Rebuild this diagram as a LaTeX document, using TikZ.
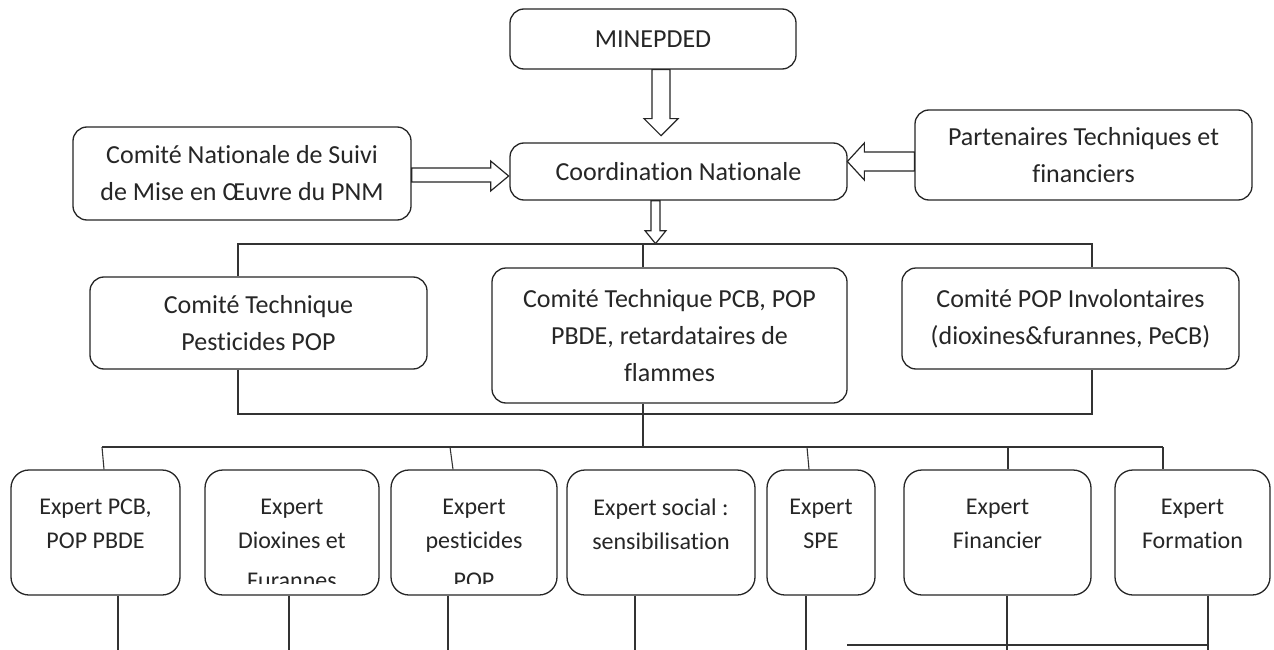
\documentclass[tikz,border=0pt]{standalone}
\usepackage{fontspec}
\setmainfont{Carlito}[Ligatures={NoCommon}]
\usetikzlibrary{calc}
\newcommand\bigfs{\fontsize{26}{37}\selectfont}
\newcommand\smallfs{\fontsize{24}{34}\selectfont}
\newcommand\etx[2]{\parbox[c][125pt][t]{#1}{\centering\vspace*{29pt}#2}}
\begin{document}
\begin{tikzpicture}[x=1pt,y=-1pt,
  box/.style={draw=black!85, line width=1.3pt, fill=white, rounded corners=14pt,
    inner sep=0pt, align=center, font=\bigfs, text=black!85},
  ebox/.style={draw=black!85, line width=1.3pt, fill=white, rounded corners=18pt,
    inner sep=0pt, minimum height=125pt, font=\smallfs, text=black!85},
  etext/.style={inner sep=0pt, font=\smallfs, text=black!85},
  conn/.style={draw=black!80, line width=1.1pt},
  barrow/.style={draw=black!85, line width=1.2pt, fill=white, line join=miter}]
\fill[white] (0,0) rectangle (1274,650);
\useasboundingbox (0,0) rectangle (1274,650);

% top level boxes
\node[box, minimum width=286pt, minimum height=60pt] (mine) at (653,39) {MINEPDED};
\node[box, minimum width=337pt, minimum height=57pt] (coord) at (678.5,171.5) {Coordination Nationale};
\node[box, minimum width=338pt, minimum height=93pt] (csuivi) at (242,173.5) {Comité Nationale de Suivi\\de Mise en Œuvre du PNM};
\node[box, minimum width=337pt, minimum height=90pt] (ptf) at (1083.5,155) {Partenaires Techniques et\\financiers};

% comités
\node[box, minimum width=337pt, minimum height=92pt] (ctp) at (258.5,323) {Comité Technique\\Pesticides POP};
\node[box, minimum width=355pt, minimum height=135pt] (ctm) at (669.5,335.5) {Comité Technique PCB, POP\\PBDE, retardataires de\\flammes};
\node[box, minimum width=337pt, minimum height=101pt] (cpi) at (1070.5,318.5) {Comité POP Involontaires\\(dioxines\&furannes, PeCB)};

% experts
\node[ebox, minimum width=169pt] (e1) at (95.5,532.5) {\etx{160pt}{Expert PCB,\\POP PBDE}};
\node[ebox, minimum width=174pt] (e2) at (292,532.5) {\etx{165pt}{Expert\\Dioxines et}};
\node[ebox, minimum width=166pt] (e3) at (474,532.5) {\etx{158pt}{Expert\\pesticides}};
\node[ebox, minimum width=188pt] (e4) at (661,532.5) {\etx{180pt}{Expert social :\\sensibilisation}};
\node[ebox, minimum width=108pt] (e5) at (821,532.5) {\etx{100pt}{Expert\\SPE}};
\node[ebox, minimum width=187pt] (e6) at (997.5,532.5) {\etx{178pt}{Expert\\Financier}};
\node[ebox, minimum width=155pt] (e7) at (1192.5,532.5) {\etx{146pt}{Expert\\Formation}};

% clipped third lines
\begin{scope}
\clip (e2.north west) rectangle ($(e2.south east)+(0,-12)$);
\node[etext, anchor=base] (e2c) at ($(e2.south)+(0,-7)$) {Furannes};
\end{scope}
\begin{scope}
\clip (e3.north west) rectangle ($(e3.south east)+(0,-12)$);
\node[etext, anchor=base] (e3c) at ($(e3.south)+(0,-7)$) {POP};
\end{scope}

% block arrows
\draw[barrow] ($(mine.south)+(-1,0)$) -- ++(0,49) -- ++(-8,0) -- ++(17,17) -- ++(17,-17) -- ++(-8,0) -- ++(0,-49) -- cycle;
\draw[barrow] ($(csuivi.east)+(0,-5.5)$) -- ++(79,0) -- ++(0,-7) -- ++(18,15) -- ++(-18,15) -- ++(0,-9) -- ++(-79,0) -- cycle;
\draw[barrow] ($(ptf.west)+(0,-3)$) -- ++(-50,0) -- ++(0,-9) -- ++(-17,18.5) -- ++(17,18.5) -- ++(0,-9) -- ++(50,0) -- cycle;
\draw[barrow] ($(coord.south)+(-27.5,0)$) -- ++(0,30) -- ++(-6,0) -- ++(10.5,13) -- ++(10.5,-13) -- ++(-6,0) -- ++(0,-30) -- cycle;

% buses
\coordinate (b1L) at (238,244);
\coordinate (b1M) at (643,244);
\coordinate (b1R) at (1092,244);
\coordinate (b2L) at (238,414);
\coordinate (b2R) at (1092,414);
\coordinate (b3M) at (643,447);
\coordinate (b3L) at (102,447);
\coordinate (b3R) at (1163,447);

\draw[conn] (ctp.north -| b1L) -- (b1L) -- (b1R) -- (cpi.north -| b1R);
\draw[conn] (b1M) -- (ctm.north -| b1M);
\draw[conn] (ctp.south -| b2L) -- (b2L) -- (b2R) -- (cpi.south -| b2R);
\draw[conn] (ctm.south -| b3M) -- (b3M);
\draw[conn] (b3L) -- (b3R);

% experts top connectors
\draw[conn] (b3L) -- ($(e1.north -| b3L)+(2,0)$);
\draw[conn] (450,447) -- ($(e3.north)+(-21,0)$);
\draw[conn] (807,447) -- ($(e5.north)+(-12,0)$);
\draw[conn] (1008,447) -- ($(e6.north)+(10.5,0)$);
\draw[conn] (b3R) -- (e7.north -| b3R);

% bottom lines
\coordinate (d1) at (118,650);
\coordinate (d2) at (289,650);
\coordinate (d3) at (448,650);
\coordinate (d4) at (635,650);
\coordinate (d5) at (806,650);
\coordinate (d6) at (1007,650);
\coordinate (d7) at (1208,650);
\coordinate (h1) at (847,645);
\draw[conn] (e1.south -| d1) -- (d1);
\draw[conn] (e2.south -| d2) -- (d2);
\draw[conn] (e3.south -| d3) -- (d3);
\draw[conn] (e4.south -| d4) -- (d4);
\draw[conn] (e5.south -| d5) -- (d5);
\draw[conn] (e6.south -| d6) -- (d6);
\draw[conn] (e7.south -| d7) -- (d7);
\draw[conn] (h1) -- (h1 -| d7);
\end{tikzpicture}
\end{document}
